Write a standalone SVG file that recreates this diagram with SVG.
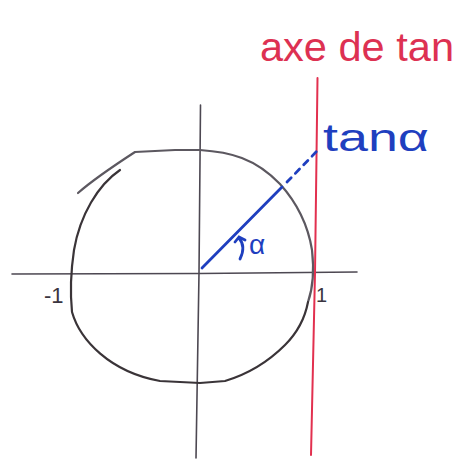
<svg xmlns="http://www.w3.org/2000/svg" width="458" height="463" viewBox="0 0 458 463">
<style>
.ax{fill:none;stroke:#4d4852;stroke-width:1.6;stroke-linecap:round}
.circ{fill:none;stroke:#5c5860;stroke-width:2.2;stroke-linecap:round;stroke-linejoin:round}
.red{fill:none;stroke:#e2304f;stroke-width:2;stroke-linecap:round}
.blue{fill:none;stroke:#1f3fbf;stroke-width:2.8;stroke-linecap:round}
.bt{fill:#1f3fbf;font-family:"Liberation Sans",sans-serif}
.rt{fill:#dd3152;font-family:"Liberation Sans",sans-serif}
.kt{fill:#3a3540;font-family:"Liberation Sans",sans-serif}
</style>
<rect width="458" height="463" fill="#fff"/>
<g id="axes">
<path class="ax" d="M12 274 L200 273.5 L357 272"/>
<path class="ax" d="M200.5 105 L199 273 L196 458"/>
</g>
<g id="circle">
<path class="circ" d="M78 193 C95 178 115 165 135 152 L175 150 L200 150 C230 152 255 158 280 184 C298 204 308 225 312 250 C314 268 314 285 308 302"/>
<path class="circ" d="M120 170 C98 185 80 215 74 250 C71 270 70 292 72 312 C80 340 110 372 160 381 L200 383 L225 381 C245 375 265 365 285 345 C298 332 305 318 308 302" style="stroke:#3a3438"/>
</g>
<g id="tangent-axis">
<path class="red" d="M317.5 78 L315 273 L311 455"/>
<text class="rt" x="260" y="61" font-size="40" textLength="194" lengthAdjust="spacingAndGlyphs">axe de tan</text>
</g>
<g id="radius">
<path class="blue" d="M202 268 L282 187"/>
<path class="blue" d="M287 182 L318 150" stroke-dasharray="6 6" stroke-width="2.4"/>
</g>
<g id="angle">
<path class="blue" d="M240 259 C244 251 244 244 239 238 M235 242 L239 237 L245 240" stroke-width="2.4"/>
<text class="bt" x="249" y="254" font-size="28">α</text>
</g>
<g id="labels">
<text class="bt" x="323" y="151" font-size="38" textLength="106" lengthAdjust="spacingAndGlyphs">tanα</text>
<text class="kt" x="44" y="303" font-size="22">-1</text>
<text class="kt" x="316" y="302" font-size="20">1</text>
</g>
</svg>
